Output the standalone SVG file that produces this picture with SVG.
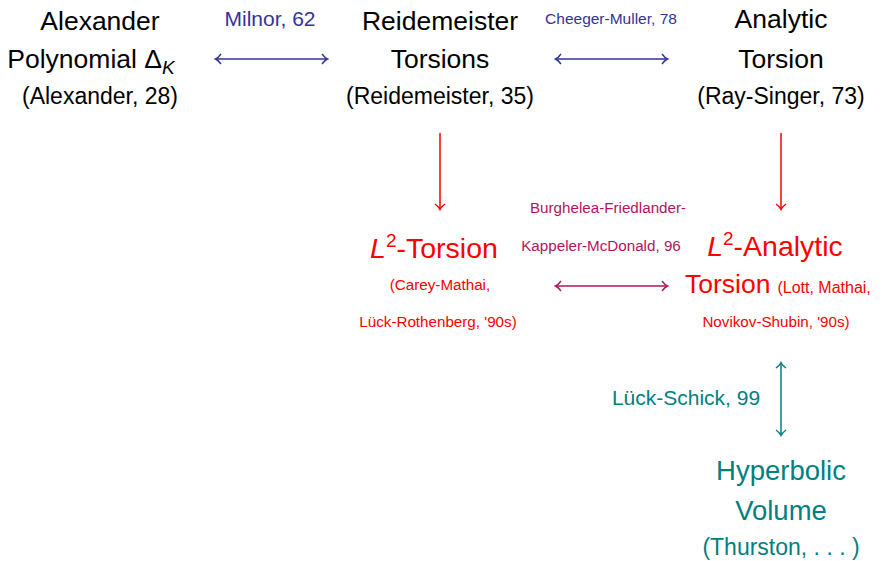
<svg xmlns="http://www.w3.org/2000/svg" width="883" height="561" viewBox="0 0 883 561">
<defs>
<style>
text{font-family:"Liberation Sans","DejaVu Sans",sans-serif;text-anchor:middle}
.big{font-size:26.5px}
.mid{font-size:23px}
.sm{font-size:21px}
.xs{font-size:15.2px}
.k{fill:#000}
.b{fill:#33339a}
.r{fill:#ff0000}
.p{fill:#b3145e}
.t{fill:#008080}
.ln{fill:none;stroke-width:1.5}
</style>
<marker id="hb" viewBox="-6 -6 8 12" markerWidth="8" markerHeight="12" refX="0" refY="0" orient="auto-start-reverse" markerUnits="userSpaceOnUse"><path d="M-5,-5 Q-2,-1 0.5,0 Q-2,1 -5,5" fill="none" stroke="#33339a" stroke-width="1.4"/></marker>
<marker id="hr" viewBox="-6 -6 8 12" markerWidth="8" markerHeight="12" refX="0" refY="0" orient="auto-start-reverse" markerUnits="userSpaceOnUse"><path d="M-5,-5 Q-2,-1 0.5,0 Q-2,1 -5,5" fill="none" stroke="#ff0000" stroke-width="1.4"/></marker>
<marker id="hp" viewBox="-6 -6 8 12" markerWidth="8" markerHeight="12" refX="0" refY="0" orient="auto-start-reverse" markerUnits="userSpaceOnUse"><path d="M-5,-5 Q-2,-1 0.5,0 Q-2,1 -5,5" fill="none" stroke="#b3145e" stroke-width="1.4"/></marker>
<marker id="ht" viewBox="-6 -6 8 12" markerWidth="8" markerHeight="12" refX="0" refY="0" orient="auto-start-reverse" markerUnits="userSpaceOnUse"><path d="M-5,-5 Q-2,-1 0.5,0 Q-2,1 -5,5" fill="none" stroke="#008080" stroke-width="1.4"/></marker>
</defs>
<g id="connectors">
<line class="ln" x1="216" y1="59" x2="327" y2="59" stroke="#33339a" marker-start="url(#hb)" marker-end="url(#hb)"/>
<line class="ln" x1="556" y1="59" x2="667" y2="59" stroke="#33339a" marker-start="url(#hb)" marker-end="url(#hb)"/>
<line class="ln" x1="440" y1="133" x2="440" y2="209" stroke="#ff0000" marker-end="url(#hr)"/>
<line class="ln" x1="781" y1="133" x2="781" y2="209" stroke="#ff0000" marker-end="url(#hr)"/>
<line class="ln" x1="556" y1="286" x2="667" y2="286" stroke="#b3145e" marker-start="url(#hp)" marker-end="url(#hp)"/>
<line class="ln" x1="781" y1="363" x2="781" y2="435" stroke="#008080" marker-start="url(#ht)" marker-end="url(#ht)"/>
<text class="sm b" x="270" y="26">Milnor, 62</text>
<text class="xs b" x="611" y="24" style="font-size:15.5px">Cheeger-Muller, 78</text>
<text class="xs p" x="608" y="213">Burghelea-Friedlander-</text>
<text class="xs p" x="601" y="251">Kappeler-McDonald, 96</text>
<text class="sm t" x="686" y="405">Lück-Schick, 99</text>
</g>
<g id="alexander">
<text class="big k" x="100" y="30">Alexander</text>
<text class="big k" x="91" y="68">Polynomial Δ<tspan font-style="italic" font-size="19" dy="6">K</tspan></text>
<text class="mid k" x="100" y="104">(Alexander, 28)</text>
</g>
<g id="reidemeister">
<text class="big k" x="440" y="30">Reidemeister</text>
<text class="big k" x="440" y="68">Torsions</text>
<text class="mid k" x="440" y="104">(Reidemeister, 35)</text>
</g>
<g id="analytic">
<text class="big k" x="781" y="28">Analytic</text>
<text class="big k" x="781" y="68">Torsion</text>
<text class="mid k" x="781" y="104">(Ray-Singer, 73)</text>
</g>
<g id="l2torsion">
<text class="r" x="434" y="258" font-size="28.5"><tspan font-style="italic">L</tspan><tspan font-size="19" dy="-11">2</tspan><tspan dy="11">-Torsion</tspan></text>
<text class="xs r" x="440" y="290">(Carey-Mathai,</text>
<text class="xs r" x="438" y="327">Lück-Rothenberg, '90s)</text>
</g>
<g id="l2analytic">
<text class="r" x="775" y="256" font-size="28.5"><tspan font-style="italic">L</tspan><tspan font-size="19" dy="-11">2</tspan><tspan dy="11">-Analytic</tspan></text>
<text class="r" x="685" y="293" style="text-anchor:start"><tspan font-size="26.5">Torsion</tspan><tspan font-size="16" dx="7">(Lott, Mathai,</tspan></text>
<text class="xs r" x="776" y="327">Novikov-Shubin, '90s)</text>
</g>
<g id="hyperbolic">
<text class="big t" x="781" y="480" style="font-size:27.5px">Hyperbolic</text>
<text class="big t" x="781" y="520" style="font-size:27.5px">Volume</text>
<text class="mid t" x="781" y="555">(Thurston, . . . )</text>
</g>
</svg>
